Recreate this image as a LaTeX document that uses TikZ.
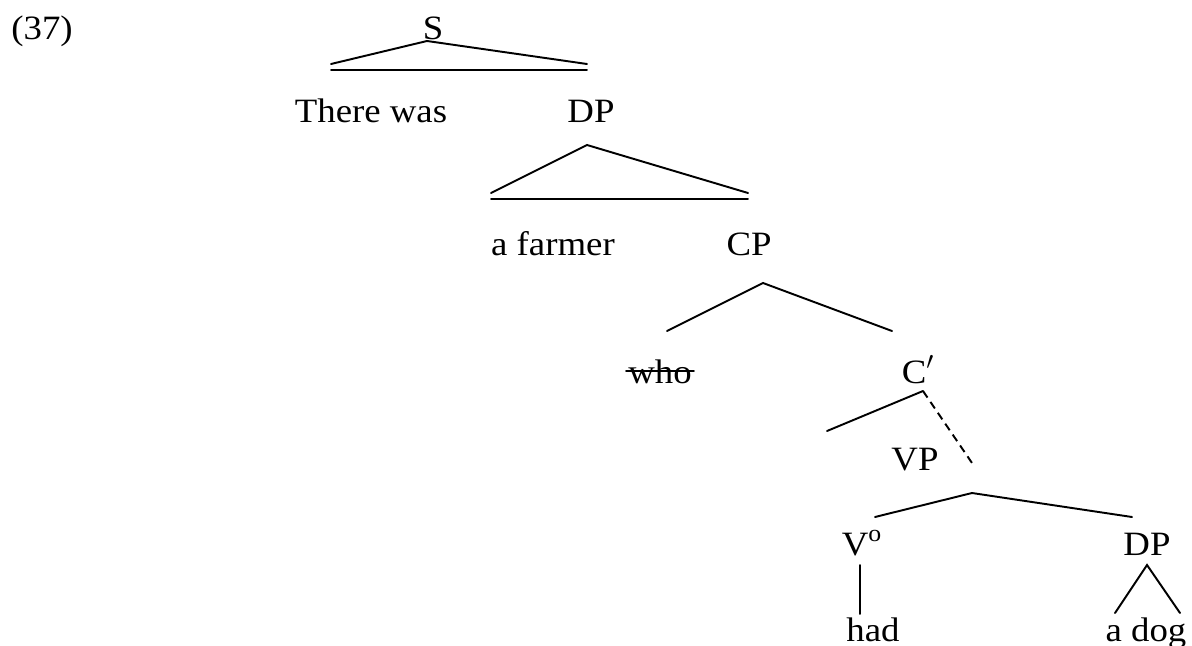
\documentclass[tikz,border=0pt]{standalone}
\usepackage{fontspec}
\setmainfont{Liberation Serif}[FakeStretch=1.08]
\usepackage{tikz}

\tikzset{
  cat/.style={inner sep=0pt, anchor=base, font=\fontsize{19.4}{22}\selectfont},
  branch/.style={line width=1.1pt, line cap=round},
  movedbranch/.style={branch, line cap=butt, dash pattern=on 4.5pt off 3pt}
}

\begin{document}
\begin{tikzpicture}[x=0.02cm, y=-0.02cm]
			\useasboundingbox (0,0) rectangle (1192,645);

			% Numero
			\node[cat] (num) at (42,40) {(37)};

			% S
			\node[cat] (S) at (433,40) {S};
			\node[cat] (therewas) at (371,123) {There was};
			\node[cat] (DPa) at (591,123) {DP};
			\coordinate (S-top) at (427,41);
			\coordinate (S-l) at (331,64);
			\coordinate (S-r) at (587,64);
			\coordinate (S-bl) at (331,70);
			\coordinate (S-br) at (587,70);
			\draw[branch] (S-l) -- (S-top) -- (S-r);
			\draw[branch] (S-bl) -- (S-br);

			% DP
			\node[cat] (farmer) at (553,255) {a farmer};
			\node[cat] (CP) at (749,255) {CP};
			\coordinate (DPa-top) at (587,145);
			\coordinate (DPa-l) at (491,193);
			\coordinate (DPa-r) at (748,193);
			\coordinate (DPa-bl) at (491,199);
			\coordinate (DPa-br) at (748,199);
			\draw[branch] (DPa-l) -- (DPa-top) -- (DPa-r);
			\draw[branch] (DPa-bl) -- (DPa-br);

			% CP
			\node[cat] (who) at (660,383) {who};
			\node[cat] (Cbar) at (918,383) {C$'$};
			\draw[branch] ([xshift=-1pt]who.west) -- ([xshift=1pt]who.east);
			\coordinate (CP-top) at (763,283);
			\coordinate (CP-l) at (667,331);
			\coordinate (CP-r) at (892,331);
			\draw[branch] (CP-l) -- (CP-top) -- (CP-r);

			% C'
			\node[cat] (VP) at (915,470) {VP};
			\coordinate (Cbar-top) at (923,391);
			\coordinate (Cbar-l) at (827,431);
			\coordinate (Cbar-r) at (972,463);
			\draw[branch] (Cbar-l) -- (Cbar-top);
			\draw[movedbranch] (Cbar-top) -- (Cbar-r);

			% VP
			\node[cat] (V) at (862,555) {V\textsuperscript{o}};
			\node[cat] (DPb) at (1147,555) {DP};
			\coordinate (VP-top) at (972,493);
			\coordinate (VP-l) at (875,517);
			\coordinate (VP-r) at (1132,517);
			\draw[branch] (VP-l) -- (VP-top) -- (VP-r);

			% feuilles
			\node[cat] (had) at (873,641) {had};
			\node[cat] (adog) at (1146,641) {a dog};
			\coordinate (V-bot) at (860,565);
			\coordinate (had-top) at (860,614);
			\draw[branch] (V-bot) -- (had-top);
			\coordinate (DPb-top) at (1147,565);
			\coordinate (DPb-l) at (1115,613);
			\coordinate (DPb-r) at (1180,613);
			\draw[branch] (DPb-l) -- (DPb-top) -- (DPb-r);
		\end{tikzpicture}
\end{document}
